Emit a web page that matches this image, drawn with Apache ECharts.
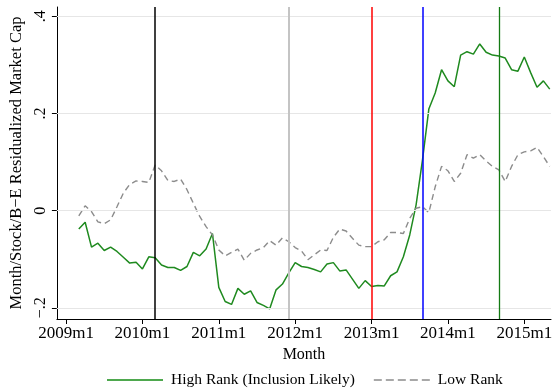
<!DOCTYPE html>
<html><head><meta charset="utf-8">
<script src="https://cdn.jsdelivr.net/npm/echarts@6/dist/echarts.min.js"></script>
<style>html,body{margin:0;padding:0;background:#fff}#c{width:555px;height:391px}</style>
</head><body><div id="c"></div>
<script>
// months since 2009m1
const months = [2,3,4,5,6,7,8,9,10,11,12,13,14,15,16,17,18,19,20,21,22,23,24,25,26,27,28,29,30,31,32,33,34,35,36,37,38,39,40,41,42,43,44,45,46,47,48,49,50,51,52,53,54,55,56,57,58,59,60,61,62,63,64,65,66,67,68,69,70,71,72,73,74,75,76];
const highRank = [-0.038,-0.024,-0.075,-0.067,-0.082,-0.075,-0.084,-0.096,-0.108,-0.106,-0.120,-0.095,-0.097,
  -0.112,-0.117,-0.117,-0.123,-0.115,-0.086,-0.093,-0.079,-0.047,-0.158,-0.187,-0.193,-0.160,-0.172,-0.165,
  -0.189,-0.195,-0.202,-0.163,-0.151,-0.128,-0.107,-0.115,-0.117,-0.121,-0.126,-0.110,-0.107,-0.124,-0.122,
  -0.141,-0.160,-0.144,-0.156,-0.154,-0.155,-0.134,-0.126,-0.095,-0.050,0.012,0.104,0.209,0.242,0.290,0.267,
  0.255,0.320,0.327,0.322,0.343,0.326,0.320,0.318,0.314,0.290,0.287,0.316,0.284,0.254,0.267,0.250];
const lowRank = [-0.011,0.010,-0.002,-0.023,-0.027,-0.019,0.008,0.036,0.054,0.061,0.060,0.058,0.094,
  0.082,0.062,0.060,0.065,0.043,0.015,-0.012,-0.033,-0.050,-0.081,-0.093,-0.086,-0.079,-0.102,-0.088,
  -0.081,-0.076,-0.062,-0.071,-0.056,-0.064,-0.076,-0.083,-0.101,-0.091,-0.081,-0.082,-0.055,-0.038,-0.042,
  -0.057,-0.071,-0.074,-0.074,-0.064,-0.060,-0.045,-0.045,-0.047,-0.016,0.005,0.008,-0.004,0.049,0.091,0.082,
  0.060,0.077,0.115,0.108,0.115,0.102,0.091,0.084,0.060,0.091,0.115,0.121,0.123,0.130,0.111,0.091];
const xTickValues = [0,12,24,36,48,60,72];
const xTickLabels = ["2009m1","2010m1","2011m1","2012m1","2013m1","2014m1","2015m1"];
const yTickValues = [-0.2,0,0.2,0.4];
const yTickLabels = ["\u2212.2","0",".2",".4"];
const eventMonths = [14,35,48,56,68];
const eventColors = ['#000000','#c4c4c4','#ff0000','#0000ff','#137a13'];
const eventWidths = [1.5,2,1.5,1.5,1.3];
const seriesNames = ["High Rank (Inclusion Likely)","Low Rank"];

const FONT = 'Liberation Serif';
const chart = echarts.init(document.getElementById('c'));
const pair = vals => months.map((m,i)=>[m, vals[i]]);
const dashIcon = 'path://M0,0h8v2h-8z M12,0h8v2h-8z M24,0h8v2h-8z M36,0h8v2h-8z M48,0h8v2h-8z';
chart.setOption({
  animation:false,
  backgroundColor:'#fff',
  grid:{left:54,right:0,top:7,bottom:72,containLabel:false},
  xAxis:{type:'value',min:-1.44,max:76.2,
    name:'Month',nameLocation:'middle',nameGap:19,
    nameTextStyle:{fontFamily:FONT,fontSize:16,color:'#000'},
    axisLine:{show:true,onZero:false,lineStyle:{color:'#000',width:1}},
    axisTick:{show:true,length:5,customValues:xTickValues,lineStyle:{color:'#000'}},
    axisLabel:{customValues:xTickValues,margin:6,fontFamily:FONT,fontSize:17,color:'#000',
      formatter:v=>xTickLabels[xTickValues.indexOf(v)]},
    splitLine:{show:false}},
  yAxis:{type:'value',min:-0.223,max:0.419,
    name:'Month/Stock/B\u2212E Residualized Market Cap',nameLocation:'middle',nameGap:22,
    nameTextStyle:{fontFamily:FONT,fontSize:16.5,color:'#000'},
    axisLine:{show:true,onZero:false,lineStyle:{color:'#000',width:1}},
    axisTick:{show:true,length:5,customValues:yTickValues,lineStyle:{color:'#000'}},
    axisLabel:{customValues:yTickValues,rotate:90,margin:8,fontFamily:FONT,fontSize:16,color:'#000',
      formatter:v=>yTickLabels[yTickValues.indexOf(v)]},
    splitLine:{show:false}},
  legend:{left:107,top:372,padding:0,itemWidth:56,itemHeight:2,itemGap:19,
    data:[{name:seriesNames[0],icon:'rect',itemStyle:{color:'#4ea84e'}},
          {name:seriesNames[1],icon:dashIcon,itemStyle:{color:'#a8a8a8'}}],
    textStyle:{fontFamily:FONT,fontSize:15.5,color:'#000',padding:[0,0,0,3]}},
  series:[
    {type:'line',name:'grid',data:[],z:1,silent:true,
      markLine:{silent:true,symbol:['none','none'],label:{show:false},animation:false,
        lineStyle:{color:'#e6e6e6',width:1.2,type:'solid'},
        data:yTickValues.map(v=>({yAxis:v}))}},
    {type:'line',name:seriesNames[0],data:pair(highRank),symbol:'none',z:2,
      lineStyle:{color:'#1f8a1f',width:1.5},itemStyle:{color:'#4ea84e'}},
    {type:'line',name:seriesNames[1],data:pair(lowRank),symbol:'none',z:2,
      lineStyle:{color:'#8c8c8c',width:1.4,type:[6,4]},itemStyle:{color:'#a8a8a8'}},
    {type:'line',name:'events',data:[],z:3,silent:true,
      markLine:{silent:true,symbol:['none','none'],label:{show:false},animation:false,
        data:eventMonths.map((m,i)=>({xAxis:m,lineStyle:{color:eventColors[i],width:eventWidths[i],type:'solid'}}))}}
  ]
});
</script></body></html>
